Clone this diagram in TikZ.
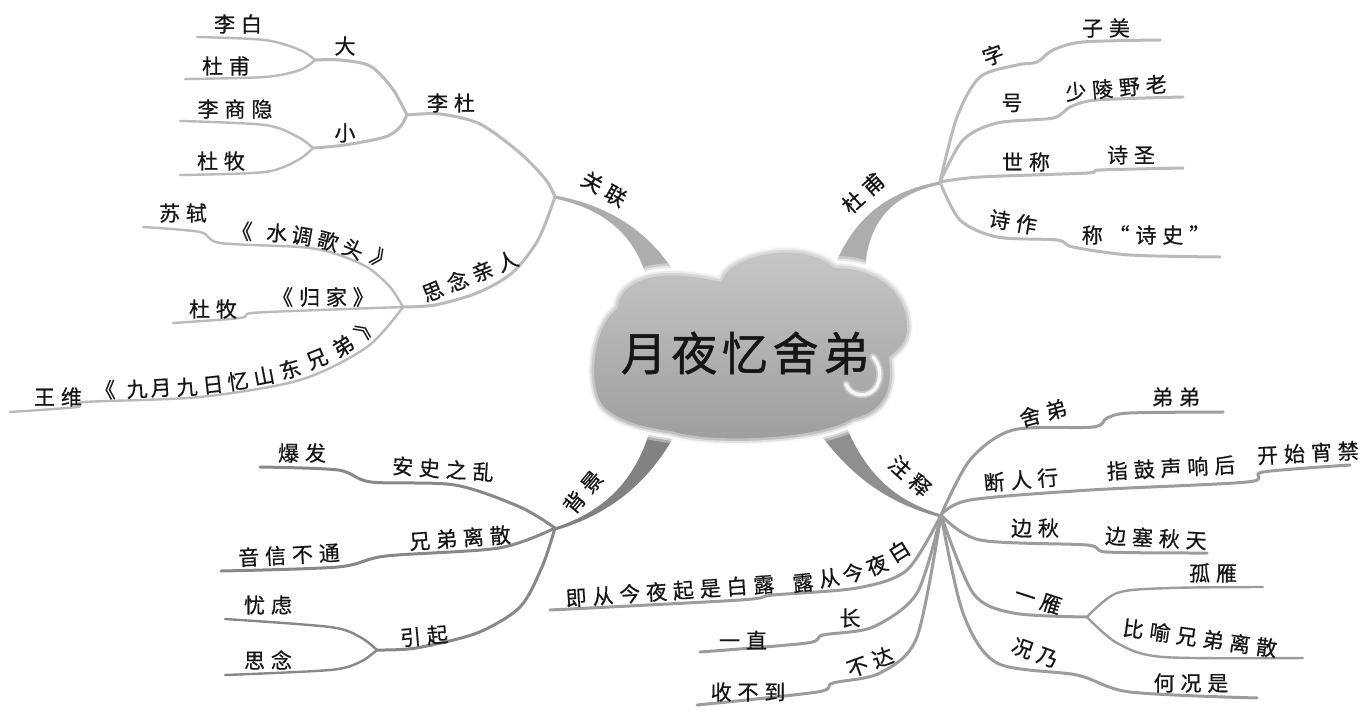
\documentclass[tikz,border=0pt]{standalone}
\usepackage{fontspec}
\newfontfamily\cjk{Noto Sans CJK SC}[LetterSpace=28,FakeBold=0.6]
\newfontfamily\cjkn{Noto Sans CJK SC}[FakeBold=0.6]
\newfontfamily\cjkt{Noto Sans CJK SC}[LetterSpace=10,FakeBold=1]
\definecolor{lineA}{HTML}{BABABA}
\definecolor{lineB}{HTML}{888888}
\definecolor{lineC}{HTML}{9C9C9C}
\definecolor{brA}{HTML}{ADADAD}
\definecolor{brB}{HTML}{828282}
\definecolor{brC}{HTML}{8F8F8F}
\definecolor{txt}{HTML}{161616}
\definecolor{cloudTop}{HTML}{CACACA}
\definecolor{cloudMid}{HTML}{AEAEAE}
\definecolor{cloudBot}{HTML}{9C9C9C}
\newcommand\mmcloudpath{(593,400) .. controls (583,375) and (588,325) .. (612,305) .. controls (615,280) and (645,266) .. (685,270) .. controls (700,271) and (712,274) .. (718,275) .. controls (728,250) and (800,232) .. (837,262) .. controls (875,262) and (912,285) .. (913,325) .. controls (914,342) and (905,352) .. (895,360) .. controls (900,395) and (885,418) .. (855,424) .. controls (820,446) and (710,450) .. (670,437) .. controls (630,432) and (600,420) .. (593,400) -- cycle}
\newcommand\mmchar[4]{\node[chr,rotate=#3] (#1) at (#2) {#4};}
\tikzset{
  lbl/.style={font=\cjk\fontsize{21}{24}\selectfont, text=txt, inner sep=0pt},
  chr/.style={font=\cjkn\fontsize{21}{24}\selectfont, text=txt, inner sep=0pt},
  titletext/.style={font=\cjkt\fontsize{46}{52}\selectfont, text=txt, inner sep=0pt},
  lnA/.style={draw=lineA, line width=3pt, line cap=round, line join=round},
  lnB/.style={draw=lineB, line width=3pt, line cap=round, line join=round},
  lnC/.style={draw=lineC, line width=3pt, line cap=round, line join=round},
  thin/.style={line width=2.4pt},
}
\begin{document}
\begin{tikzpicture}[x=1pt,y=-1pt]
\fill[white] (0,0) rectangle (1363,712);
\useasboundingbox (0,0) rectangle (1363,712);
% hubs
\coordinate (hGL) at (555,197);
\coordinate (hLD) at (407,115);
\coordinate (hDa) at (315,60);
\coordinate (hXiao) at (313,148);
\coordinate (hSN) at (403,307);
\coordinate (hDF) at (940,182);
\coordinate (hBJ) at (555,528);
\coordinate (hYQ) at (377,650);
\coordinate (hZS) at (941,515);
\coordinate (hYY) at (1087,617);
% leaf ends
\coordinate (eLiBai) at (197,37);
\coordinate (eDuFu) at (185,79);
\coordinate (eLSY) at (180,121);
\coordinate (eDuMu) at (180,175);
\coordinate (eSuShi) at (143,227);
\coordinate (eDuMu2) at (173,323);
\coordinate (eWangWei) at (10,412);
\coordinate (eZi) at (1160,40);
\coordinate (eHao) at (1183,97);
\coordinate (eShiCheng) at (1183,168);
\coordinate (eShiZuo) at (1220,257);
\coordinate (eASZL) at (260,467);
\coordinate (eXDLS) at (221,571);
\coordinate (eYouLv) at (225,619);
\coordinate (eSiNian) at (225,675);
\coordinate (eSheDi) at (1223,412);
\coordinate (eDRX) at (1350,465);
\coordinate (eBianQiu) at (1207,553);
\coordinate (eGuYan) at (1263,587);
\coordinate (eBiYu) at (1303,658);
\coordinate (eKuangNai) at (1257,698);
\coordinate (eLu) at (550,610);
\coordinate (eYiZhi) at (700,652);
\coordinate (eShou) at (697,705);

% thick main branches (tapered)
\fill[brA] (555.3,195.5) .. controls (605.7,205.1) and (647.7,228.3) .. (677,276.5) -- (649,287.5) .. controls (638.3,235.7) and (604.3,208.9) .. (554.7,198.5) -- cycle;
\fill[brA] (939.7,181.5) .. controls (894,190.3) and (857,211.7) .. (835,265) -- (865,272) .. controls (867,218.3) and (896,193.7) .. (940.3,184.5) -- cycle;
\fill[brB] (554.6,527.6) .. controls (599.1,513.2) and (636,485) .. (652,423) -- (676,433) .. controls (644,491) and (600.9,516.8) .. (555.4,530.4) -- cycle;
\fill[brC] (941.4,514.6) .. controls (896,501.3) and (862.6,474.2) .. (841,413) -- (815,427) .. controls (853.4,481.8) and (894,504.7) .. (940.6,517.4) -- cycle;

% cloud
\shade[top color=cloudTop, middle color=cloudMid, bottom color=cloudBot] \mmcloudpath;
\draw[white, line width=12pt, opacity=0.35] \mmcloudpath;
\draw[white, line width=7pt, opacity=0.5] \mmcloudpath;
\draw[white, line width=3pt, opacity=0.8] \mmcloudpath;
\draw[white, line width=7pt, opacity=0.35, line cap=round] (846,384) .. controls (850,397) and (870,399) .. (877,386) .. controls (882,375) and (880,365) .. (873,357);
\draw[white, line width=3.5pt, opacity=0.85, line cap=round] (846,384) .. controls (850,397) and (870,399) .. (877,386) .. controls (882,375) and (880,365) .. (873,357);
\node[titletext] (title) at (745,353) {月夜忆舍弟};

% upper-left lines
\draw[lnA,thin] plot[smooth] coordinates {(eLiBai) (265,40) (300,50) (hDa)};
\draw[lnA,thin] plot[smooth] coordinates {(eDuFu) (265,77) (300,70) (hDa)};
\draw[lnA] plot[smooth] coordinates {(hDa) (340,60) (370,66) (392,88) (hLD)};
\draw[lnA,thin] plot[smooth] coordinates {(eLSY) (265,125) (298,137) (hXiao)};
\draw[lnA,thin] plot[smooth] coordinates {(eDuMu) (265,172) (298,160) (hXiao)};
\draw[lnA] plot[smooth] coordinates {(hXiao) (345,145) (385,137) (400,127) (hLD)};
\draw[lnA] plot[smooth] coordinates {(hLD) (440,114) (480,124) (520,153) (546,180) (hGL)};
\draw[lnA] plot[smooth] coordinates {(hSN) (435,305) (477,293) (512,273) (538,240) (hGL)};
\draw[lnA,thin] plot[smooth] coordinates {(eSuShi) (200,232) (220,243) (300,247) (333,253) (367,267) (390,287) (hSN)};
\draw[lnA,thin] plot[smooth] coordinates {(eDuMu2) (240,318) (252,313) (320,310) (hSN)};
\draw[lnA,thin] plot[smooth] coordinates {(eWangWei) (77,407) (85,402) (200,397) (300,380) (367,347) (hSN)};

% upper-right lines
\draw[lnA] plot[smooth] coordinates {(hDF) (957,117) (980,77) (1017,65) (1037,62) (1053,50) (1083,42) (eZi)};
\draw[lnA] plot[smooth] coordinates {(hDF) (963,140) (997,123) (1053,118) (1070,107) (1097,100) (eHao)};
\draw[lnA] plot[smooth] coordinates {(hDF) (980,177) (1087,173) (1100,170) (eShiCheng)};
\draw[lnA] plot[smooth] coordinates {(hDF) (960,220) (997,237) (1057,240) (1073,247) (1130,255) (eShiZuo)};

% lower-left lines
\draw[lnB] plot[smooth] coordinates {(eASZL) (338,470) (371,482) (455,485) (520,507) (hBJ)};
\draw[lnB] plot[smooth] coordinates {(eXDLS) (338,567) (386,556) (499,548) (hBJ)};
\draw[lnB] plot[smooth] coordinates {(hYQ) (416,648) (477,633) (520,607) (542,567) (hBJ)};
\draw[lnB,thin] plot[smooth] coordinates {(eYouLv) (330,627) (360,637) (hYQ)};
\draw[lnB,thin] plot[smooth] coordinates {(eSiNian) (330,670) (360,662) (hYQ)};

% lower-right lines
\draw[lnC] plot[smooth] coordinates {(hZS) (970,460) (1013,430) (1093,427) (1107,418) (1130,413) (eSheDi)};
\draw[lnC] plot[smooth] coordinates {(hZS) (970,500) (1090,490) (1247,482) (1263,472) (eDRX)};
\draw[lnC] plot[smooth] coordinates {(hZS) (980,540) (1087,545) (1107,552) (eBianQiu)};
\draw[lnC] plot[smooth] coordinates {(hZS) (973,593) (1013,613) (hYY)};
\draw[lnC,thin] plot[smooth] coordinates {(hYY) (1117,593) (1170,588) (eGuYan)};
\draw[lnC,thin] plot[smooth] coordinates {(hYY) (1117,643) (1163,657) (eBiYu)};
\draw[lnC] plot[smooth] coordinates {(hZS) (963,613) (997,663) (1077,675) (1130,692) (eKuangNai)};
\draw[lnC] plot[smooth] coordinates {(hZS) (907,570) (857,588) (773,595) (740,600) (eLu)};
\draw[lnC] plot[smooth] coordinates {(hZS) (917,593) (873,627) (823,635) (807,643) (eYiZhi)};
\draw[lnC] plot[smooth] coordinates {(hZS) (917,637) (880,673) (833,683) (817,692) (eShou)};

% upper-left texts
\node[lbl] (tLiBai) at (238,24) {李白};
\node[lbl] (tDuFu1) at (226,66) {杜甫};
\node[chr] (tDa) at (345,46) {大};
\node[lbl] (tLSY) at (235,109) {李商隐};
\node[lbl] (tDuMu1) at (221,161) {杜牧};
\node[chr] (tXiao) at (345,133) {小};
\node[lbl] (tLiDu) at (451,103) {李杜};
\node[lbl,rotate=-30] (tGL) at (604,189) {关联};
\node[lbl] (tSuShi) at (183,213) {苏轼};
\mmchar{sA}{242,231}{-3}{《}
\mmchar{sB}{277,233}{-5}{水}
\mmchar{sC}{302,236}{-10}{调}
\mmchar{sD}{328,241}{-15}{歌}
\mmchar{sE}{353,249}{-22}{头}
\mmchar{sF}{382,260}{-35}{》}
\node[lbl,rotate=22] (tSNQR) at (470,276) {思念亲人};
\node[lbl] (tDuMu2) at (213,309) {杜牧};
\node[lbl] (tGuiJia) at (323,297) {《归家》};
\node[lbl] (tWangWei) at (58,397) {王维};
\mmchar{wA}{105,390}{3}{《}
\mmchar{wB}{137,389}{3}{九}
\mmchar{wC}{161,388}{3}{月}
\mmchar{wD}{187,387}{4}{九}
\mmchar{wE}{213,385}{6}{日}
\mmchar{wF}{238,381}{8}{忆}
\mmchar{wG}{264,376}{11}{山}
\mmchar{wH}{290,369}{16}{东}
\mmchar{wI}{317,359}{22}{兄}
\mmchar{wJ}{343,346}{32}{弟}
\mmchar{wK}{366,327}{55}{》}

% upper-right texts
\node[lbl,rotate=42] (tDuFu) at (863,193) {杜甫};
\node[chr,rotate=20] (tZi) at (993,55) {字};
\node[lbl] (tZiMei) at (1106,28) {子美};
\node[chr] (tHao) at (1012,103) {号};
\node[lbl,rotate=5] (tSLYL) at (1116,88) {少陵野老};
\node[lbl] (tShiCheng) at (1026,162) {世称};
\node[lbl] (tShiSheng) at (1131,155) {诗圣};
\node[lbl,rotate=-10] (tShiZuo) at (1013,222) {诗作};
\node[lbl] (tChengShiShi) at (1146,235) {称“诗史”};

% lower-left texts
\node[lbl,rotate=50] (tBJ) at (583,492) {背景};
\node[lbl] (tBaoFa) at (302,453) {爆发};
\node[lbl,rotate=-4] (tASZL) at (443,469) {安史之乱};
\node[lbl,rotate=3] (tYXBT) at (289,555) {音信不通};
\node[lbl,rotate=4] (tXDLS) at (460,538) {兄弟离散};
\node[lbl] (tYouLv) at (268,605) {忧虑};
\node[lbl] (tSiNian) at (268,660) {思念};
\node[lbl,rotate=5] (tYinQi) at (424,636) {引起};

% lower-right texts
\node[lbl,rotate=-42] (tZS) at (910,476) {注释};
\node[lbl,rotate=15] (tSheDi) at (1043,413) {舍弟};
\node[lbl] (tDiDi) at (1176,397) {弟弟};
\node[lbl,rotate=5] (tDRX) at (1021,480) {断人行};
\node[lbl,rotate=3] (tZGSXH) at (1171,468) {指鼓声响后};
\node[lbl,rotate=3] (tKSXJ) at (1308,453) {开始宵禁};
\node[lbl] (tBianQiu) at (1035,528) {边秋};
\node[lbl,rotate=-3] (tBSQT) at (1156,538) {边塞秋天};
\node[lbl,rotate=-18] (tYiYan) at (1038,600) {一雁};
\node[lbl] (tGuYan) at (1213,573) {孤雁};
\node[lbl,rotate=-8] (tBYXDLS) at (1200,638) {比喻兄弟离散};
\node[lbl,rotate=-20] (tKuangNai) at (1035,653) {况乃};
\node[lbl] (tHKS) at (1191,683) {何况是};
\node[lbl,rotate=4] (tJCJY) at (670,591) {即从今夜起是白露};
\mmchar{lA}{803,583}{6}{露}
\mmchar{lB}{829,578}{10}{从}
\mmchar{lC}{853,573}{15}{今}
\mmchar{lD}{877,565}{22}{夜}
\mmchar{lE}{899,551}{32}{白}
\node[lbl] (tYiZhi) at (743,640) {一直};
\node[chr] (tChang) at (850,618) {长};
\node[lbl] (tSBD) at (748,692) {收不到};
\node[lbl,rotate=20] (tBuDa) at (870,662) {不达};
\end{tikzpicture}
\end{document}
